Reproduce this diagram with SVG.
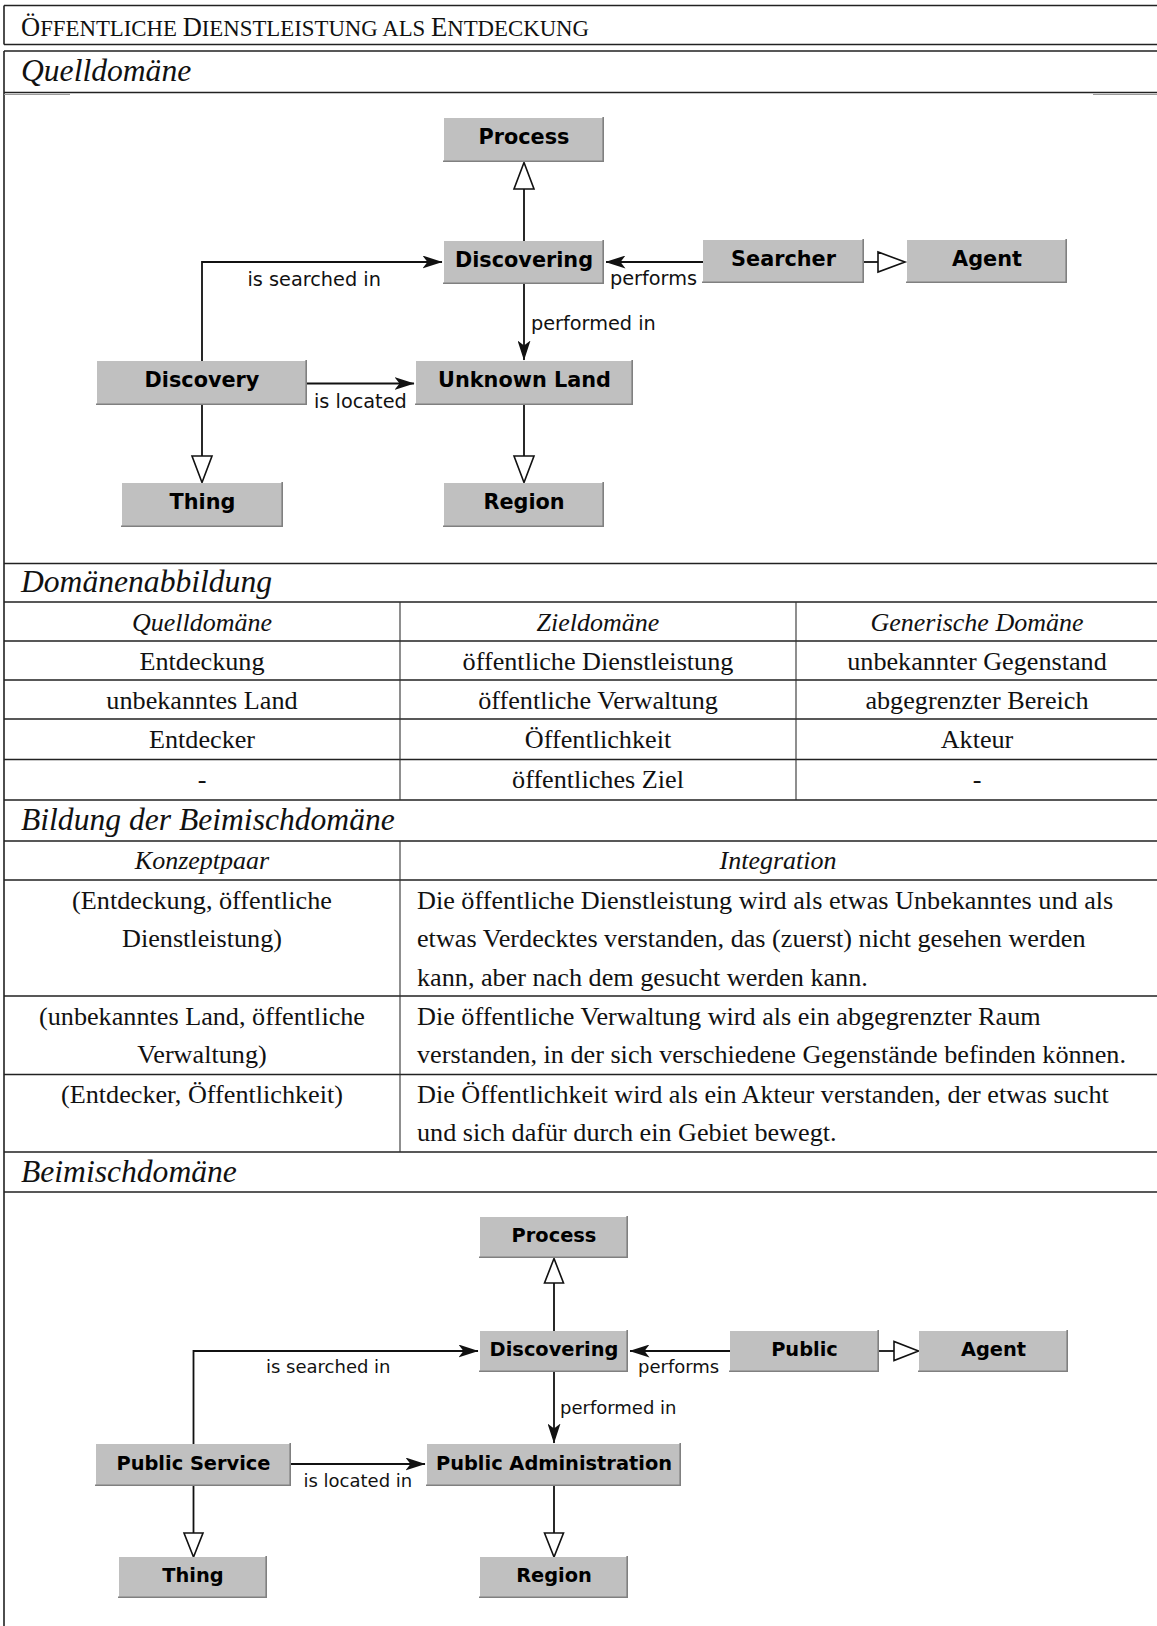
<svg xmlns="http://www.w3.org/2000/svg" width="1157" height="1626" viewBox="0 0 1157 1626">
<style>
.frame{stroke:#222;stroke-width:1.6;fill:none}
.col{stroke:#333;stroke-width:1.1;fill:none}
.ser{font-family:"Liberation Serif","Times New Roman",serif;fill:#111}
.sec{font-size:31.6px;font-style:italic}
.hd{font-size:26px;font-style:italic}
.bd{font-size:26.2px}
.nbox{fill:#c0c0c0}
.nsh{fill:none;stroke:#808080;stroke-width:1.6}
.ntxt{font-family:"DejaVu Sans",sans-serif;font-weight:bold;fill:#000;text-anchor:middle}
.t1{font-size:20.8px}
.t2{font-size:19.4px}
.lbl{font-family:"DejaVu Sans",sans-serif;fill:#111}
.l1{font-size:19.3px}
.l2{font-size:18px}
.edge{fill:none;stroke:#111;stroke-width:1.8}
.gen{fill:#fff;stroke:#111;stroke-width:1.6}
.ctr{text-anchor:middle}
</style>
<defs>
<marker id="arr" viewBox="0 0 20 13" refX="19.5" refY="6.5" markerWidth="20" markerHeight="13" markerUnits="userSpaceOnUse" orient="auto">
<path d="M0,0 L20,6.5 L0,13 L5,6.5 Z" fill="#111"/>
</marker>
</defs>
<rect x="0" y="0" width="1157" height="1626" fill="#fff"/>

<g id="frame">
<path class="frame" d="M4,5.5 H1157 M4,44.5 H1157 M4,5.5 V44.5"/>
<path class="frame" d="M4,51 H1157 M4,51 V1626 M4,92.5 H1157"/>
<path d="M4,94.5 H70 M1093,94.5 H1157" stroke="#999" stroke-width="1.2" fill="none"/>
<path class="frame" d="M4,563.5 H1157 M4,602 H1157 M4,641 H1157 M4,680 H1157 M4,719 H1157 M4,759.5 H1157 M4,800 H1157"/>
<path class="col" d="M400,602 V800 M796,602 V800"/>
<path class="frame" d="M4,841 H1157 M4,880 H1157 M4,996 H1157 M4,1074.5 H1157 M4,1152 H1157 M4,1192 H1157"/>
<path class="col" d="M400,841 V1152"/>
</g>

<g id="texts">
<text class="ser" x="21" y="35.5" font-size="22.8px"><tspan font-size="26.5px">Ö</tspan>FFENTLICHE <tspan font-size="26.5px">D</tspan>IENSTLEISTUNG ALS <tspan font-size="26.5px">E</tspan>NTDECKUNG</text>
<text class="ser sec" x="21" y="80.5">Quelldomäne</text>
<text class="ser sec" x="21" y="591.5">Domänenabbildung</text>
<text class="ser hd ctr" x="202" y="631">Quelldomäne</text>
<text class="ser hd ctr" x="598" y="631">Zieldomäne</text>
<text class="ser hd ctr" x="977" y="631">Generische Domäne</text>
<text class="ser bd ctr" x="202" y="670">Entdeckung</text>
<text class="ser bd ctr" x="598" y="670">öffentliche Dienstleistung</text>
<text class="ser bd ctr" x="977" y="670">unbekannter Gegenstand</text>
<text class="ser bd ctr" x="202" y="709">unbekanntes Land</text>
<text class="ser bd ctr" x="598" y="709">öffentliche Verwaltung</text>
<text class="ser bd ctr" x="977" y="709">abgegrenzter Bereich</text>
<text class="ser bd ctr" x="202" y="748">Entdecker</text>
<text class="ser bd ctr" x="598" y="748">Öffentlichkeit</text>
<text class="ser bd ctr" x="977" y="748">Akteur</text>
<text class="ser bd ctr" x="202" y="788">-</text>
<text class="ser bd ctr" x="598" y="788">öffentliches Ziel</text>
<text class="ser bd ctr" x="977" y="788">-</text>
<text class="ser sec" x="21" y="829.5">Bildung der Beimischdomäne</text>
<text class="ser hd ctr" x="202" y="868.5">Konzeptpaar</text>
<text class="ser hd ctr" x="778" y="868.5">Integration</text>
<text class="ser bd ctr" x="202" y="908.5">(Entdeckung, öffentliche</text>
<text class="ser bd ctr" x="202" y="947">Dienstleistung)</text>
<text class="ser bd" x="417" y="908.5">Die öffentliche Dienstleistung wird als etwas Unbekanntes und als</text>
<text class="ser bd" x="417" y="947">etwas Verdecktes verstanden, das (zuerst) nicht gesehen werden</text>
<text class="ser bd" x="417" y="985.5">kann, aber nach dem gesucht werden kann.</text>
<text class="ser bd ctr" x="202" y="1024.5">(unbekanntes Land, öffentliche</text>
<text class="ser bd ctr" x="202" y="1063">Verwaltung)</text>
<text class="ser bd" x="417" y="1024.5">Die öffentliche Verwaltung wird als ein abgegrenzter Raum</text>
<text class="ser bd" x="417" y="1063">verstanden, in der sich verschiedene Gegenstände befinden können.</text>
<text class="ser bd ctr" x="202" y="1102.5">(Entdecker, Öffentlichkeit)</text>
<text class="ser bd" x="417" y="1102.5">Die Öffentlichkeit wird als ein Akteur verstanden, der etwas sucht</text>
<text class="ser bd" x="417" y="1141">und sich dafür durch ein Gebiet bewegt.</text>
<text class="ser sec" x="21" y="1181.5">Beimischdomäne</text>
</g>

<g id="connectors">
<path class="edge" d="M524,241 V189"/>
<polygon class="gen" points="524,162.5 514,189 534,189"/>
<path class="edge" d="M202,361 V262 H442" marker-end="url(#arr)"/>
<path class="edge" d="M524,284 V360" marker-end="url(#arr)"/>
<path class="edge" d="M307,383.5 H414" marker-end="url(#arr)"/>
<path class="edge" d="M703,262 H606" marker-end="url(#arr)"/>
<path class="edge" d="M864,262 H878"/>
<polygon class="gen" points="905,262 878,252 878,272"/>
<path class="edge" d="M202,405 V456"/>
<polygon class="gen" points="202,482.5 192,456 212,456"/>
<path class="edge" d="M524,405 V456"/>
<polygon class="gen" points="524,482.5 514,456 534,456"/>
<text class="lbl l1" x="247.5" y="285.5">is searched in</text>
<text class="lbl l1" x="531" y="330">performed in</text>
<text class="lbl l1" x="314" y="408">is located</text>
<text class="lbl l1" x="610" y="285">performs</text>

<path class="edge" d="M554,1331 V1283"/>
<polygon class="gen" points="554,1258.5 544.5,1283 563.5,1283"/>
<path class="edge" d="M193.5,1444 V1351 H478" marker-end="url(#arr)"/>
<path class="edge" d="M554,1372 V1443" marker-end="url(#arr)"/>
<path class="edge" d="M291,1464 H425" marker-end="url(#arr)"/>
<path class="edge" d="M730,1351 H630" marker-end="url(#arr)"/>
<path class="edge" d="M879,1351 H894"/>
<polygon class="gen" points="918.5,1351 894,1341.5 894,1360.5"/>
<path class="edge" d="M193.5,1486 V1533"/>
<polygon class="gen" points="193.5,1557 184,1533 203,1533"/>
<path class="edge" d="M554,1486 V1533"/>
<polygon class="gen" points="554,1557 544.5,1533 563.5,1533"/>
<text class="lbl l2" x="266" y="1373">is searched in</text>
<text class="lbl l2" x="560" y="1414">performed in</text>
<text class="lbl l2" x="303.5" y="1486.5">is located in</text>
<text class="lbl l2" x="638" y="1373">performs</text>
</g>

<g id="n-process1"><rect class="nbox" x="444" y="118" width="160" height="44"/><path class="nsh" d="M443,161.2 H603.2 V117"/><text class="ntxt t1" x="524" y="144">Process</text></g>
<g id="n-discovering1"><rect class="nbox" x="444" y="241" width="160" height="43"/><path class="nsh" d="M443,283.2 H603.2 V240"/><text class="ntxt t1" x="524" y="267">Discovering</text></g>
<g id="n-searcher"><rect class="nbox" x="703" y="240" width="161" height="43"/><path class="nsh" d="M702,282.2 H863.2 V239"/><text class="ntxt t1" x="783.5" y="266">Searcher</text></g>
<g id="n-agent1"><rect class="nbox" x="907" y="240" width="160" height="43"/><path class="nsh" d="M906,282.2 H1066.2 V239"/><text class="ntxt t1" x="987" y="266">Agent</text></g>
<g id="n-discovery"><rect class="nbox" x="97" y="361" width="210" height="44"/><path class="nsh" d="M96,404.2 H306.2 V360"/><text class="ntxt t1" x="202" y="387">Discovery</text></g>
<g id="n-unknownland"><rect class="nbox" x="416" y="361" width="217" height="44"/><path class="nsh" d="M415,404.2 H632.2 V360"/><text class="ntxt t1" x="524.5" y="387">Unknown Land</text></g>
<g id="n-thing1"><rect class="nbox" x="122" y="483" width="161" height="44"/><path class="nsh" d="M121,526.2 H282.2 V482"/><text class="ntxt t1" x="202.5" y="509">Thing</text></g>
<g id="n-region1"><rect class="nbox" x="444" y="483" width="160" height="44"/><path class="nsh" d="M443,526.2 H603.2 V482"/><text class="ntxt t1" x="524" y="509">Region</text></g>

<g id="n-process2"><rect class="nbox" x="480" y="1217" width="148" height="41"/><path class="nsh" d="M479,1257.2 H627.2 V1216"/><text class="ntxt t2" x="554" y="1242">Process</text></g>
<g id="n-discovering2"><rect class="nbox" x="480" y="1331" width="148" height="41"/><path class="nsh" d="M479,1371.2 H627.2 V1330"/><text class="ntxt t2" x="554" y="1356">Discovering</text></g>
<g id="n-public"><rect class="nbox" x="730" y="1331" width="149" height="41"/><path class="nsh" d="M729,1371.2 H878.2 V1330"/><text class="ntxt t2" x="804.5" y="1356">Public</text></g>
<g id="n-agent2"><rect class="nbox" x="919" y="1331" width="149" height="41"/><path class="nsh" d="M918,1371.2 H1067.2 V1330"/><text class="ntxt t2" x="993.5" y="1356">Agent</text></g>
<g id="n-publicservice"><rect class="nbox" x="96" y="1444" width="195" height="42"/><path class="nsh" d="M95,1485.2 H290.2 V1443"/><text class="ntxt t2" x="193.5" y="1470">Public Service</text></g>
<g id="n-publicadmin"><rect class="nbox" x="427" y="1444" width="254" height="42"/><path class="nsh" d="M426,1485.2 H680.2 V1443"/><text class="ntxt t2" x="554" y="1470">Public Administration</text></g>
<g id="n-thing2"><rect class="nbox" x="119" y="1557" width="148" height="41"/><path class="nsh" d="M118,1597.2 H266.2 V1556"/><text class="ntxt t2" x="193" y="1582">Thing</text></g>
<g id="n-region2"><rect class="nbox" x="480" y="1557" width="148" height="41"/><path class="nsh" d="M479,1597.2 H627.2 V1556"/><text class="ntxt t2" x="554" y="1582">Region</text></g>
</svg>
